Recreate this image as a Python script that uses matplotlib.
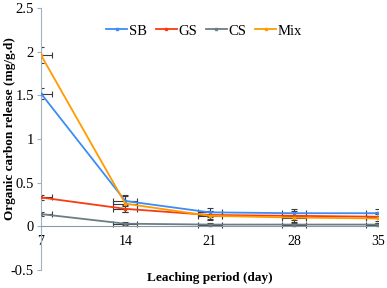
import matplotlib
matplotlib.use("Agg")
import matplotlib.pyplot as plt
import numpy as np

days = [7, 14, 21, 28, 35]
sb = [1.52, 0.29, 0.16, 0.15, 0.15]
gs = [0.33, 0.20, 0.13, 0.12, 0.11]
cs = [0.14, 0.03, 0.02, 0.02, 0.02]
mix = [1.96, 0.26, 0.12, 0.10, 0.09]
sb_err = [0.06, 0.06, 0.05, 0.05, 0.05]
gs_err = [0.03, 0.04, 0.05, 0.05, 0.05]
cs_err = [0.02, 0.02, 0.02, 0.02, 0.02]
mix_err = [0.09, 0.10, 0.05, 0.05, 0.05]
x_err = [0.9, 1.0, 1.0, 1.0, 1.0]
yticks = [-0.5, 0, 0.5, 1, 1.5, 2, 2.5]
ytick_labels = ["-0.5", "0", "0.5", "1", "1.5", "2", "2.5"]

plt.rcParams['font.family'] = ['Liberation Serif', 'DejaVu Serif']

fig = plt.figure(figsize=(3.87, 2.88), dpi=100)
ax = fig.add_axes([0.106, 0.0625, 0.871, 0.91])

series = [("SB", sb, sb_err, "#3b8cf5"),
          ("GS", gs, gs_err, "#fa3a10"),
          ("CS", cs, cs_err, "#6b7d86"),
          ("Mix", mix, mix_err, "#ff9a00")]

for name, vals, err, col in series:
    ax.errorbar(days, vals, yerr=err, xerr=x_err, fmt='none', ecolor="#3a3a3a",
                elinewidth=0.8, capsize=2.5, capthick=0.8, zorder=2)
for name, vals, err, col in series:
    ax.plot(days, vals, color=col, lw=1.3, marker='s', ms=2, label=name, zorder=3)

ax.set_xlim(7, 35)
ax.set_ylim(-0.5, 2.5)
ax.set_xticks(days)
ax.set_xticklabels([str(d) for d in days], fontsize=10.5)
ax.set_yticks(yticks)
ax.set_yticklabels(ytick_labels, fontsize=10.5)

for s in ['top', 'right']:
    ax.spines[s].set_visible(False)
ax.spines['bottom'].set_position(('data', 0))
ax.spines['bottom'].set_color("#8a9aa5")
ax.spines['left'].set_color("#9fb3c2")
ax.tick_params(axis='x', length=0, pad=6)
ax.tick_params(axis='y', length=3, color="#9fb3c2", pad=2)

ax.set_xlabel("Leaching period (day)", fontsize=9.5, fontweight='bold', va='center')
ax.xaxis.set_label_coords(0.5, -0.03)
ax.set_ylabel("Organic carbon release (mg/g.d)", fontsize=9.5, fontweight='bold', va='center')
ax.yaxis.set_label_coords(-0.092, 0.54)

ax.legend(loc='center', bbox_to_anchor=(0.484, 0.912), ncol=4, frameon=False,
          prop={'family': 'Liberation Serif', 'size': 10.5},
          handlelength=1.45, handletextpad=0.1, columnspacing=0.6, borderpad=0)

fig.savefig("out.png", dpi=100)
